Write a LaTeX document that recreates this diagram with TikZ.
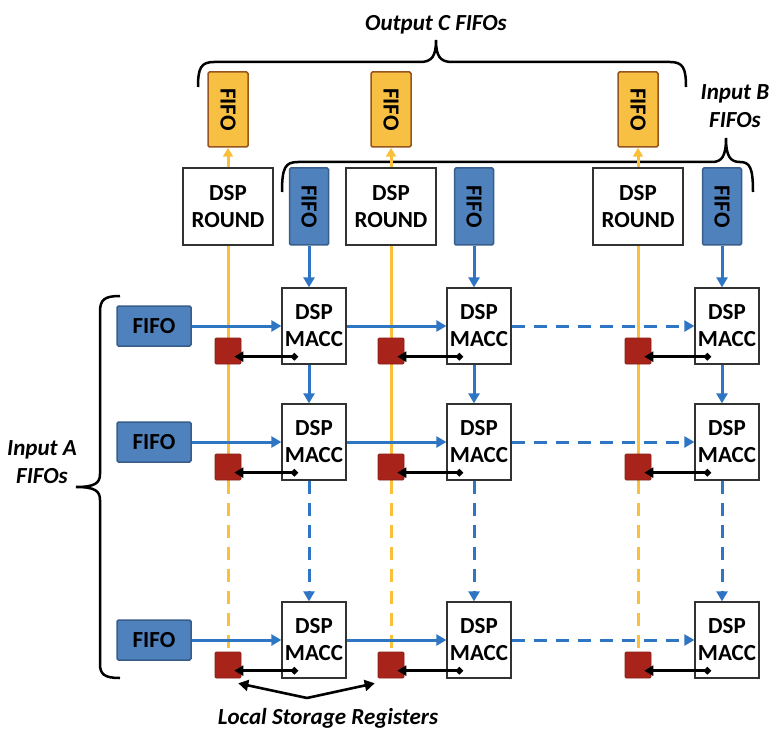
\documentclass[tikz,border=0pt]{standalone}
\usepackage{fontspec}
\setmainfont{Carlito}
\usepackage{graphicx}
\usetikzlibrary{arrows.meta,calc,backgrounds}
\definecolor{fifoblue}{RGB}{79,129,189}
\definecolor{fifoedge}{RGB}{56,93,138}
\definecolor{arrblue}{RGB}{46,117,196}
\definecolor{ofill}{RGB}{247,192,67}
\definecolor{oedge}{RGB}{150,84,30}
\definecolor{ylw}{RGB}{250,192,60}
\definecolor{regred}{RGB}{168,36,26}
\definecolor{boxedge}{RGB}{50,50,50}
\begin{document}
\begin{tikzpicture}[x=1pt,y=-1pt,
  every node/.style={inner sep=0pt,align=center,font=\fontsize{23}{27}\selectfont\bfseries},
  dspbox/.style={draw=boxedge,line width=1.3pt,fill=white,minimum width=64pt,minimum height=76pt},
  roundbox/.style={draw=boxedge,line width=1.3pt,fill=white,minimum width=90pt,minimum height=77pt},
  bfifo/.style={draw=fifoedge,line width=1.5pt,fill=fifoblue,rounded corners=1.5pt,minimum width=39pt,minimum height=77pt},
  afifo/.style={draw=fifoedge,line width=1.5pt,fill=fifoblue,rounded corners=1.5pt,minimum width=74pt,minimum height=40pt},
  cfifo/.style={draw=oedge,line width=1.5pt,fill=ofill,rounded corners=1.5pt,minimum width=40pt,minimum height=75pt},
  regbox/.style={fill=regred,draw=regred!80!black,line width=0.6pt,rounded corners=1pt,minimum size=26pt},
  lbl/.style={font=\fontsize{23}{28}\selectfont\bfseries\itshape},
  bflow/.style={draw=arrblue,line width=3pt,-{Triangle[length=10pt,width=11pt]}},
  yflow/.style={draw=ylw,line width=3pt},
  dashline/.style={dash pattern=on 13pt off 9pt},
  regarrow/.style={draw=black,line width=2.5pt,{Triangle[length=9pt,width=10pt]}-{Diamond[length=8pt,width=8pt]}},
  brk/.style={draw=black,line width=2.5pt},
  lsarrow/.style={draw=black,line width=2.6pt,-{Triangle[length=10pt,width=11pt]}},
]
\useasboundingbox (0,0) rectangle (782,746);

% labels
\node[lbl] (tc) at (436,25) {Output C FIFOs};
\node[lbl] (tb) at (735,106) {Input B\\FIFOs};
\node[lbl] (ta) at (42,462) {Input A\\FIFOs};
\node[lbl] (tl) at (328,718) {Local Storage Registers};

% braces
\draw[brk] (198,87) .. controls (198,68) and (201,62) .. (214,62) -- (420,62) .. controls (432,62) and (436,56) .. (436,40) .. controls (436,56) and (440,62) .. (452,62) -- (670,62) .. controls (683,62) and (686,68) .. (686,87);
\draw[brk] (282,192) .. controls (282,168) and (285,162) .. (298,162) -- (712,162) .. controls (722,162) and (726,156) .. (726,138) .. controls (726,156) and (730,162) .. (740,162) .. controls (750,162) and (753,168) .. (753,192);
\draw[brk] (120,296) .. controls (104,296) and (100,300) .. (100,312) -- (100,474) .. controls (100,483) and (95,487) .. (76,487) .. controls (95,487) and (100,491) .. (100,500) -- (100,664) .. controls (100,674) and (104,678) .. (120,678);

% MACC grid
\foreach \i/\cx in {1/314,2/479,3/727}{
  \foreach \j/\ry in {1/326,2/442,3/640}{
    \node[dspbox] (m\j\i) at (\cx,\ry) {DSP\\MACC};
  }
  \node[bfifo] (bf\i) at (\cx-5,206.5) {\rotatebox{-90}{FIFO}};
}
% A FIFOs
\foreach \j/\ry in {1/326,2/442,3/640}{
  \node[afifo] (af\j) at (154,\ry) {FIFO};
}
% round + C FIFOs
\foreach \i/\yx in {1/228,2/391,3/638}{
  \node[roundbox] (rd\i) at (\yx,206.5) {DSP\\ROUND};
  \node[cfifo] (cf\i) at (\yx,109.5) {\rotatebox{-90}{FIFO}};
  \foreach \j/\ry in {1/351,2/467,3/665}{
    \node[regbox] (g\j\i) at (\yx,\ry) {};
  }
}

% yellow lines (background)
\begin{pgfonlayer}{background}
\foreach \i in {1,2,3}{
  \draw[yflow] (rd\i.south) -- (rd\i.south |- m21.south);
  \draw[yflow,dashline] (rd\i.south |- m21.south) -- (g3\i.north);
}
\end{pgfonlayer}
\foreach \i in {1,2,3}{
  \draw[yflow,-{Triangle[length=9pt,width=10pt]}] (rd\i.north) -- (cf\i.south);
}

% blue flows
\foreach \j in {1,2,3}{
  \draw[bflow] (af\j.east) -- (m\j1.west);
  \draw[bflow] (m\j1.east) -- (m\j2.west);
  \draw[bflow,dashline] (m\j2.east) -- (m\j3.west);
}
\foreach \i in {1,2,3}{
  \draw[bflow] (bf\i.south) -- (bf\i.south |- m1\i.north);
  \draw[bflow] (bf\i.south |- m1\i.south) -- (bf\i.south |- m2\i.north);
  \draw[bflow,dashline] (bf\i.south |- m2\i.south) -- (bf\i.south |- m3\i.north);
}

% register arrows
\foreach \j in {1,2,3}{
  \foreach \i in {1,2,3}{
    \draw[regarrow] ($(g\j\i.east |- m\j\i.south)+(-7,-8)$) -- ($(m\j\i.south west)+(17,-8)$);
  }
}

% local storage arrows
\coordinate (lsr) at (307,698);
\draw[lsarrow] (lsr) -- ($(g31.south east)+(-3,5)$);
\draw[lsarrow] (lsr) -- ($(g32.south west)+(-3,5)$);
\end{tikzpicture}
\end{document}
